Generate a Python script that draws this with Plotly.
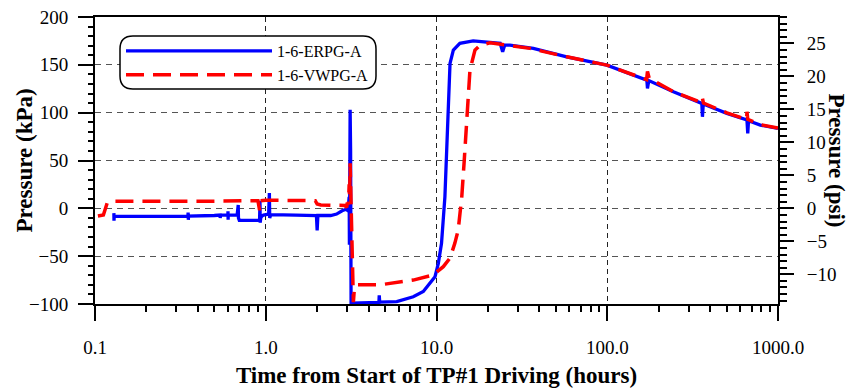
import plotly.graph_objects as go

# ---------------- data ----------------
erpg_t = [0.129, 0.1292, 0.1295, 0.35, 0.351, 0.352, 0.353, 0.5, 0.54, 0.541, 0.545,
          0.6, 0.601, 0.602, 0.603, 0.68, 0.69, 0.692, 0.70, 0.90, 0.92, 0.925, 0.928,
          0.935, 0.95, 0.97, 1.04, 1.05, 1.055, 1.07, 1.5, 1.98, 2.0, 2.02, 2.4, 2.6,
          2.8, 2.95, 3.0, 3.05, 3.08, 3.09, 3.10, 3.12, 3.14, 3.16, 3.3, 3.6, 4.0, 4.6,
          4.62, 4.65, 5.85, 7.31, 8.37, 9.16, 9.8, 10.25, 10.7, 11.2, 11.5, 11.7, 12.0,
          12.55, 13.7, 16.4, 21.5, 23.6, 24.4, 25.1, 26.9, 36.9, 57.9, 99.5, 170.6,
          172, 175, 244, 358, 361, 365, 502, 658, 665, 672, 788, 1000]
erpg_kpa = [-5, -13, -8.5, -8.3, -4.5, -12, -8.2, -7.5, -7, -10, -7,
            -7, -3, -12, -7, -7, 3.5, -10, -12.5, -12.5, -13, 8, -15,
            -10, -8, -7, -6, 16, -10, -6.5, -7, -7.5, -23, -7.5, -7.5, -6,
            -2.5, -1, -2, 3, 12, -38, 0, 103, 60, -99, -99, -98.8, -98.5, -98.2,
            -91, -98, -97.5, -92.4, -87, -78.4, -71.5, -57.5, -36.6, 12, 64, 116.6, 151.5,
            165.4, 172.4, 175, 173, 172.4, 163.6, 170.6, 170.6, 167.2, 158.4, 149.7, 134,
            125.4, 133.5, 121.8, 109.7, 95.7, 109, 99.3, 92.3, 78.4, 91.5, 87, 83.6]

vwpg_t = [0.104, 0.112, 0.118, 0.125, 0.5, 0.88, 0.90, 0.92, 0.93, 1.0, 1.5, 1.95,
          2.0, 2.1, 2.9, 2.98, 3.0, 3.05, 3.08, 3.1, 3.12, 3.15, 3.2, 3.26, 3.3, 3.4,
          4.65, 7.31, 9.57, 10.96, 12.0, 12.8, 13.4, 14.06, 14.5, 14.9, 15.2, 15.7,
          16.8, 18.0, 20.6, 23.6, 25, 35.3, 57.9, 99.5, 170, 172, 176, 244, 358, 361,
          366, 502, 655, 658, 665, 788, 1000]
vwpg_kpa = [-8, -7, 6, 7.5, 7.5, 7.5, 8, -2, 8, 8.5, 8, 8,
            4.5, 3.5, 3, 1, 6, 4, 25, 10, 47, 20, -50, -98, -85, -80,
            -80, -75, -69.7, -61, -52, -36.6, -22.7, 12, 47, 81.8, 116.6, 144.5,
            165.4, 170.6, 173, 171.7, 171, 167.2, 158.4, 149.7, 134.5, 143, 136, 122, 110.5, 115,
            110, 99.8, 93, 101, 93, 87.5, 84]

x_tick_format = ".1f"          # gives 0.1, 1.0, 10.0, 100.0, 1000.0 on the decades
kpa_tick_step = 50
psi_tick_step = 5
KPA_PER_PSI = 6.894757

# ---------------- figure ----------------
FONT = "Liberation Serif"
W, H = 849, 390
ML, MR, MT, MB = 95, 71, 17, 86
PW, PH = W - ML - MR, H - MT - MB

fig = go.Figure()
fig.add_trace(go.Scatter(x=erpg_t, y=erpg_kpa, mode="lines", name="1-6-ERPG-A",
                         line=dict(color="#0000ff", width=3.3)))
fig.add_trace(go.Scatter(x=vwpg_t, y=vwpg_kpa, mode="lines", name="1-6-VWPG-A",
                         line=dict(color="#ff0000", width=3.5, dash="18px,9px")))
# invisible trace to activate the psi axis
fig.add_trace(go.Scatter(x=[1], y=[0], yaxis="y2", mode="lines", showlegend=False,
                         hoverinfo="skip", line=dict(width=0)))

tickfont = dict(family=FONT, size=19, color="black")
titlefont = dict(family=FONT, size=23, color="black", weight="bold")

fig.update_layout(
    template="none",
    width=W, height=H,
    margin=dict(l=ML, r=MR, t=MT, b=MB),
    paper_bgcolor="white", plot_bgcolor="white",
    font=dict(family=FONT, color="black"),
    xaxis=dict(
        type="log", range=[-1, 3], tickmode="linear", tick0=0, dtick=1, tickformat=x_tick_format,
        ticks="outside", ticklen=15, tickwidth=1.5, tickcolor="black", ticklabelstandoff=10,
        showline=True, linecolor="black", linewidth=2, mirror=True,
        showgrid=True, gridcolor="#222", griddash="5px,4px", gridwidth=1,
        minor=dict(dtick="D1", ticks="outside", ticklen=6, tickwidth=1.5, tickcolor="black", showgrid=False),
        tickfont=tickfont, zeroline=False, automargin=False,
        title=dict(text="Time from Start of TP#1 Driving (hours)", font=titlefont, standoff=10),
    ),
    yaxis=dict(
        range=[-100, 200], tickmode="linear", tick0=0, dtick=kpa_tick_step,
        ticks="outside", ticklen=15, tickwidth=1.5, tickcolor="black", ticklabelstandoff=6,
        showline=True, linecolor="black", linewidth=2,
        showgrid=True, gridcolor="#555", griddash="6px,5px", gridwidth=1.3,
        minor=dict(tickmode="linear", tick0=0, dtick=10, ticks="outside", ticklen=5, tickwidth=1.5,
                   tickcolor="black", showgrid=False),
        tickfont=tickfont, zeroline=False, automargin=False,
    ),
    yaxis2=dict(
        overlaying="y", side="right",
        range=[-100 / KPA_PER_PSI, 200 / KPA_PER_PSI], tickmode="linear", tick0=0, dtick=psi_tick_step,
        ticks="outside", ticklen=14, tickwidth=1.5, tickcolor="black", ticklabelstandoff=9,
        showline=True, linecolor="black", linewidth=2,
        showgrid=False, zeroline=False,
        minor=dict(tickmode="linear", tick0=0, dtick=1, ticks="outside", ticklen=7, tickwidth=1.5,
                   tickcolor="black", showgrid=False),
        tickfont=tickfont, automargin=False,
    ),
    legend=dict(
        x=(121 - ML) / PW, y=(H - MB - 34) / PH, xanchor="left", yanchor="top",
        bgcolor="rgba(0,0,0,0)", borderwidth=0, itemwidth=146,
        font=dict(family=FONT, size=16, color="black"),
    ),
    showlegend=True,
)

# rounded legend frame
def px_x(p):
    return (p - ML) / PW

def px_y(p):
    return (H - MB - p) / PH

bx0, bx1, by0, by1, r = 120, 376, 36, 89, 13
path = (f"M{px_x(bx0 + r)},{px_y(by0)} L{px_x(bx1 - r)},{px_y(by0)} "
        f"Q{px_x(bx1)},{px_y(by0)} {px_x(bx1)},{px_y(by0 + r)} "
        f"L{px_x(bx1)},{px_y(by1 - r)} Q{px_x(bx1)},{px_y(by1)} {px_x(bx1 - r)},{px_y(by1)} "
        f"L{px_x(bx0 + r)},{px_y(by1)} Q{px_x(bx0)},{px_y(by1)} {px_x(bx0)},{px_y(by1 - r)} "
        f"L{px_x(bx0)},{px_y(by0 + r)} Q{px_x(bx0)},{px_y(by0)} {px_x(bx0 + r)},{px_y(by0)} Z")
fig.add_shape(type="path", path=path, xref="paper", yref="paper",
              line=dict(color="black", width=1.5), fillcolor="white", layer="above")

fig.add_annotation(text="Pressure (kPa)", textangle=-90, xref="paper", yref="paper",
                   x=px_x(24), y=0.5, showarrow=False, font=titlefont,
                   xanchor="center", yanchor="middle")
fig.add_annotation(text="Pressure (psi)", textangle=90, xref="paper", yref="paper",
                   x=px_x(836), y=0.5, showarrow=False, font=titlefont,
                   xanchor="center", yanchor="middle")

fig.write_html("out.html")
